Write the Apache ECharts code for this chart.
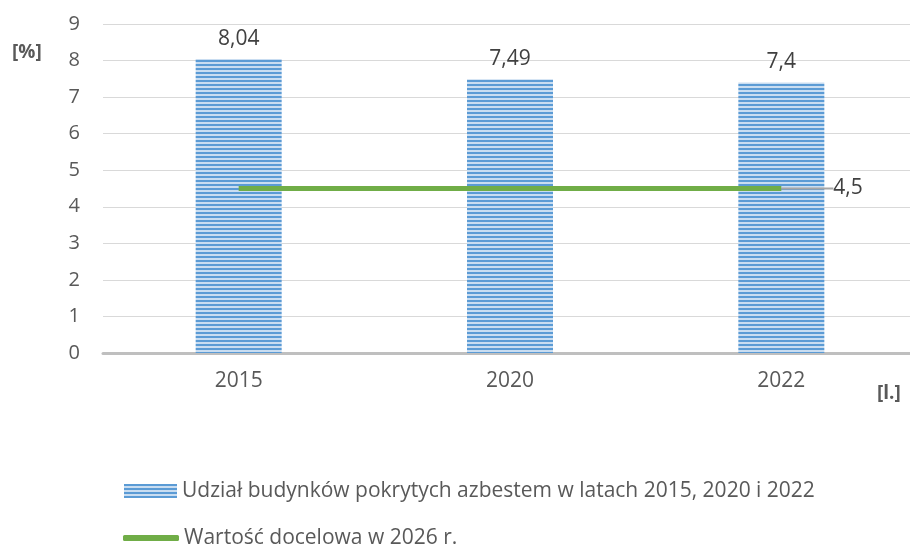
<!DOCTYPE html>
<html>
<head>
<meta charset="utf-8">
<script src="https://cdn.jsdelivr.net/npm/echarts@6/dist/echarts.min.js"></script>
<style>
  html, body { margin: 0; padding: 0; background: #fff; }
  #main { width: 910px; height: 545px; }
</style>
</head>
<body>
<div id="main"></div>
<script>
const years = ['2015', '2020', '2022'];
const shareValues = [8.04, 7.49, 7.4];
const targetValues = [4.5, 4.5, 4.5];
const yTicks = [0, 1, 2, 3, 4, 5, 6, 7, 8, 9];

const barName = 'Udział budynków pokrytych azbestem w latach 2015, 2020 i 2022';
const lineName = 'Wartość docelowa w 2026 r.';
const textColor = '#595959';
const font = '"Open Sans", sans-serif';

// striped fill like the excel pattern
function makeStripes() {
  const c = document.createElement('canvas');
  c.width = 4; c.height = 4;
  const ctx = c.getContext('2d');
  ctx.fillStyle = '#c9ddf1';
  ctx.fillRect(0, 0, 4, 4);
  ctx.fillStyle = '#5b9bd5';
  ctx.fillRect(0, 0, 4, 2);
  return c;
}
const stripes = { image: makeStripes(), repeat: 'repeat' };

const fmt = v => String(v).replace('.', ',');

const chart = echarts.init(document.getElementById('main'));
chart.setOption({
  animation: false,
  textStyle: { fontFamily: font },
  grid: { left: 103, right: -7, top: 24, bottom: 192, outerBoundsMode: 'none' },
  legend: [
    {
      data: [barName], left: 119, top: 472, itemWidth: 53, itemHeight: 14,
      icon: 'rect',
      textStyle: { color: textColor, fontSize: 21, lineHeight: 28, fontFamily: font }
    },
    {
      data: [lineName], left: 118, top: 519, itemWidth: 56, itemHeight: 6,
      icon: 'roundRect',
      textStyle: { color: textColor, fontSize: 21, lineHeight: 28, fontFamily: font }
    }
  ],
  graphic: [
    { type: 'text', left: 12, top: 43, style: { text: '[%]', fill: textColor, font: 'bold 19px ' + font } },
    { type: 'text', left: 877, top: 384, style: { text: '[l.]', fill: textColor, font: 'bold 19px ' + font } }
  ],
  xAxis: {
    type: 'category',
    data: years,
    axisLine: { lineStyle: { color: '#bfbfbf', width: 3 } },
    axisTick: { show: false },
    axisLabel: { color: textColor, fontSize: 21, margin: 18 }
  },
  yAxis: {
    type: 'value',
    min: yTicks[0], max: yTicks[yTicks.length - 1], interval: 1,
    axisLine: { show: false },
    axisTick: { show: false },
    axisLabel: { color: textColor, fontSize: 20, margin: 23 },
    splitLine: { lineStyle: { color: '#d9d9d9', width: 1 } }
  },
  series: [
    {
      name: barName,
      type: 'bar',
      data: shareValues,
      barWidth: 86,
      itemStyle: { color: stripes },
      label: {
        show: true, position: 'top', distance: 10,
        color: '#404040', fontSize: 21,
        formatter: p => fmt(p.value)
      }
    },
    {
      name: lineName,
      type: 'line',
      data: targetValues.map((v, i) => i === targetValues.length - 1
        ? {
            value: v,
            label: {
              show: true, position: 'right', distance: 0,
              padding: [0, 0, 0, 8],
              color: '#404040', fontSize: 21,
              formatter: p => fmt(p.value)
            },
            labelLine: { show: true, lineStyle: { color: '#a6a6a6', width: 2 } }
          }
        : v),
      symbol: 'circle',
      symbolSize: 0.01,
      showSymbol: true,
      z: 5,
      lineStyle: { color: '#70ad47', width: 5 },
      itemStyle: { color: '#70ad47' },
      labelLayout: { dx: 44 }
    }
  ]
});
</script>
</body>
</html>
